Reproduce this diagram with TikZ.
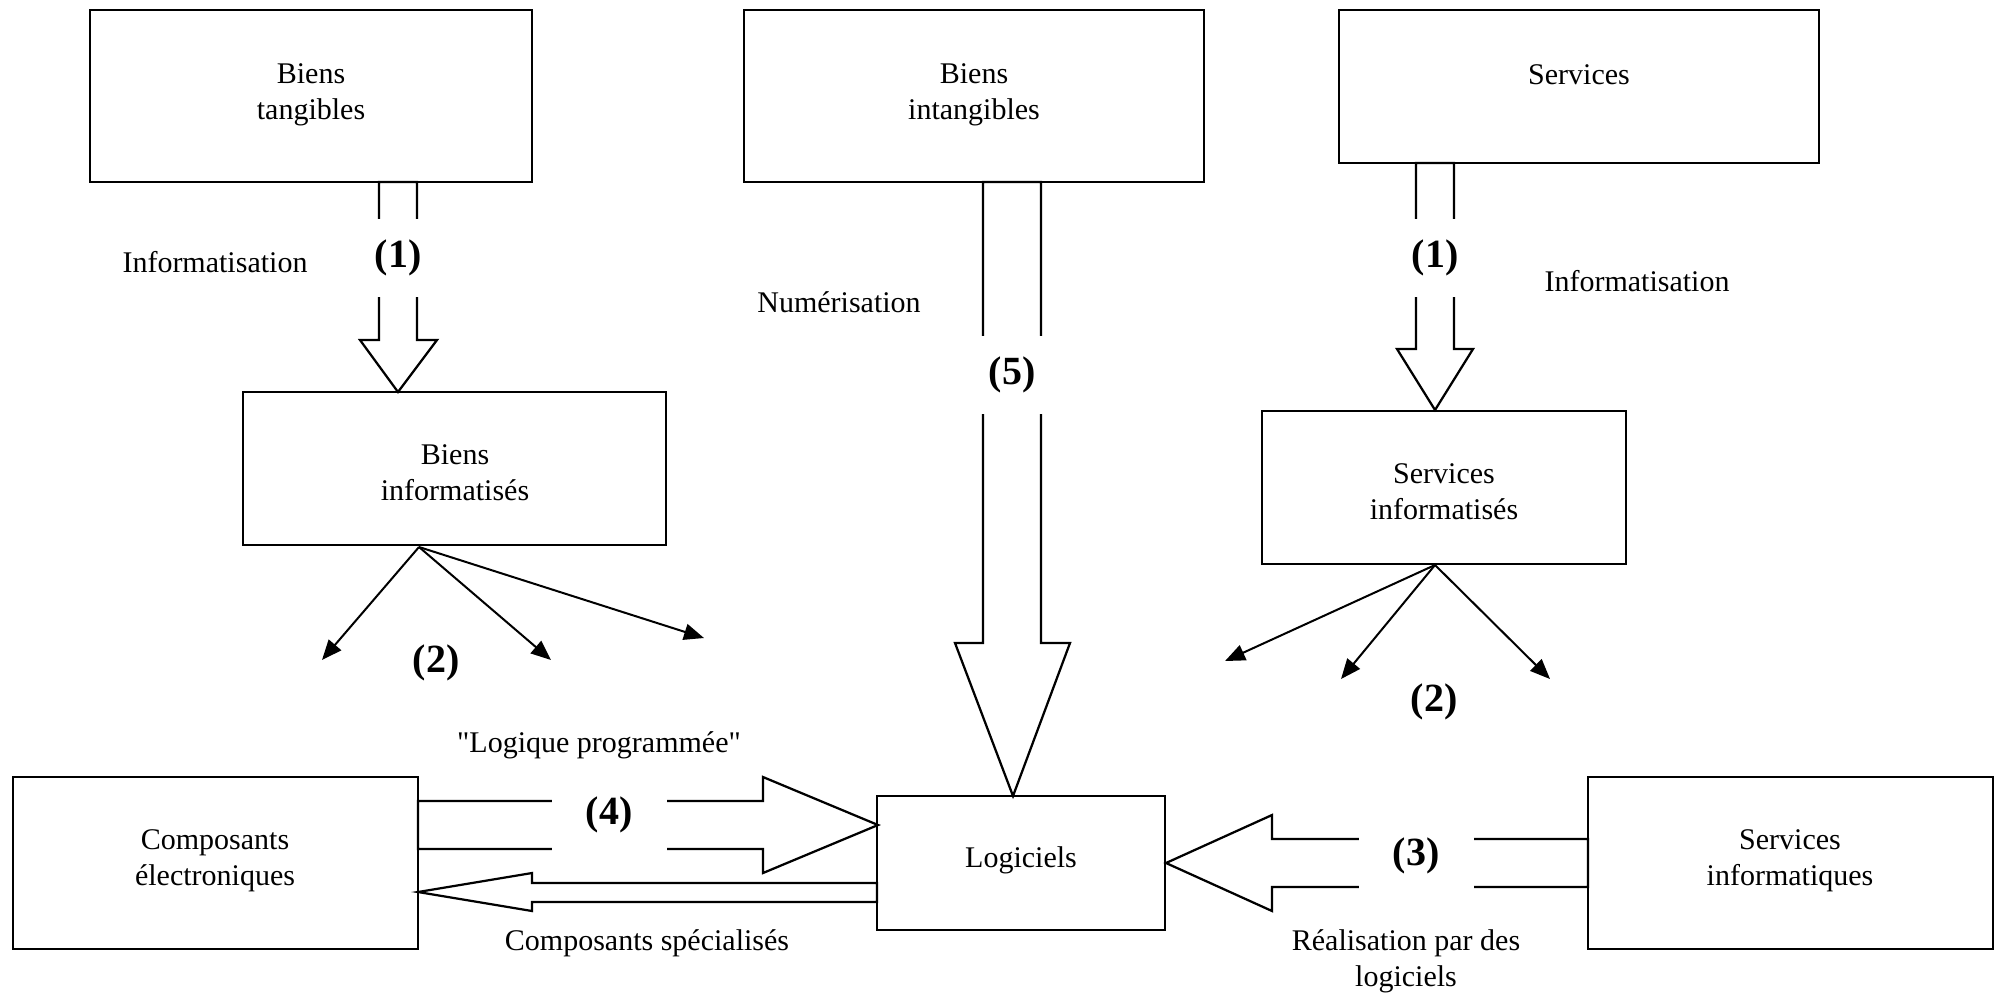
\documentclass[tikz,border=0pt]{standalone}
\usepackage{fontspec}
\setmainfont{Liberation Serif}[Ligatures=TeXOff]
\usetikzlibrary{arrows.meta}
\tikzset{
    box/.style={draw,line width=0.9pt,inner sep=0pt},
    txt/.style={align=center,inner sep=1pt,font=\fontsize{12}{14.5}\selectfont},
    num/.style={fill=white,inner sep=1pt,font=\fontsize{16}{19}\selectfont\bfseries},
    block/.style={draw,fill=white,line width=0.9pt,line join=miter},
    fan/.style={line width=0.8pt,-{Triangle[length=8pt,width=6.5pt]}}
}
\begin{document}
\begin{tikzpicture}[x=0.4pt,y=-0.4pt]
    \useasboundingbox (0,0) rectangle (1997,994);
    % boxes
    \node[box,minimum width=176.8pt,minimum height=68.8pt] (tang) at (311,96) {};
    \node[box,minimum width=184pt,minimum height=68.8pt] (intang) at (974,96) {};
    \node[box,minimum width=192pt,minimum height=61.2pt] (serv) at (1579,86.5) {};
    \node[box,minimum width=169.2pt,minimum height=61.2pt] (binfo) at (454.5,468.5) {};
    \node[box,minimum width=145.6pt,minimum height=61.2pt] (sinfo) at (1444,487.5) {};
    \node[box,minimum width=162pt,minimum height=68.8pt] (comp) at (215.5,863) {};
    \node[box,minimum width=115.2pt,minimum height=53.6pt] (logi) at (1021,863) {};
    \node[box,minimum width=162pt,minimum height=68.8pt] (sinfoq) at (1790.5,863) {};
    \node[txt] (tangt) at (311,95) {Biens\\tangibles};
    \node[txt] (intangt) at (974,95) {Biens\\intangibles};
    \node[txt] (servt) at (1579,75) {Services};
    \node[txt] (binfot) at (455,473) {Biens\\informatisés};
    \node[txt] (sinfot) at (1444,492) {Services\\informatisés};
    \node[txt] (compt) at (215,861) {Composants\\électroniques};
    \node[txt] (logit) at (1021,860) {Logiciels};
    \node[txt] (sinfoqt) at (1790,861) {Services\\informatiques};
    % block arrows
    \draw[block] (379,182) -- (379,340) -- (360,340) -- (398,392)
        -- (437,340) -- (417,340) -- (417,182) -- cycle;
    \draw[block] (1416,163) -- (1416,349) -- (1397,349) -- (1435,410)
        -- (1473,349) -- (1454,349) -- (1454,163) -- cycle;
    \draw[block] (983,182) -- (983,643) -- (955,643) -- (1013,796)
        -- (1070,643) -- (1041,643) -- (1041,182) -- cycle;
    \draw[block] (418,801) -- (763,801) -- (763,777) -- (878,825)
        -- (763,873) -- (763,849) -- (418,849) -- cycle;
    \draw[block] (877,883) -- (532,883) -- (532,873) -- (418,892)
        -- (532,911) -- (532,902) -- (877,902) -- cycle;
    \draw[block] (1588,839) -- (1272,839) -- (1272,815) -- (1166,863)
        -- (1272,911) -- (1272,887) -- (1588,887) -- cycle;
    \node[num,minimum height=31pt] (n1l) at (398,258) {(1)};
    \node[num,minimum height=31pt] (n1r) at (1435,258) {(1)};
    \node[num,minimum height=31pt,minimum width=26pt] (n5) at (1012,375) {(5)};
    \node[num,minimum height=30pt,minimum width=46pt] (n4) at (609,815) {(4)};
    \node[num,minimum height=30pt,minimum width=46pt] (n3) at (1416,856) {(3)};
    % fans
    \coordinate (fanl) at (419,547);
    \coordinate (fanl1) at (322,660);
    \coordinate (fanl2) at (551,660);
    \coordinate (fanl3) at (704,638);
    \draw[fan] (fanl) -- (fanl1);
    \draw[fan] (fanl) -- (fanl2);
    \draw[fan] (fanl) -- (fanl3);
    \coordinate (fanr) at (1435,565);
    \coordinate (fanr1) at (1225,661);
    \coordinate (fanr2) at (1341,679);
    \coordinate (fanr3) at (1550,679);
    \draw[fan] (fanr) -- (fanr1);
    \draw[fan] (fanr) -- (fanr2);
    \draw[fan] (fanr) -- (fanr3);
    \node[num] (n2l) at (436,663) {(2)};
    \node[num] (n2r) at (1434,702) {(2)};
    % labels
    \node[txt] (infol) at (215,262) {Informatisation};
    \node[txt] (numer) at (839,302) {Numérisation};
    \node[txt] (infor) at (1637,281) {Informatisation};
    \node[txt] (logique) at (599,745) {"Logique programmée"};
    \node[txt] (cspec) at (647,943) {Composants spécialisés};
    \node[txt] (realis) at (1406,961) {Réalisation par des\\logiciels};
\end{tikzpicture}
\end{document}
